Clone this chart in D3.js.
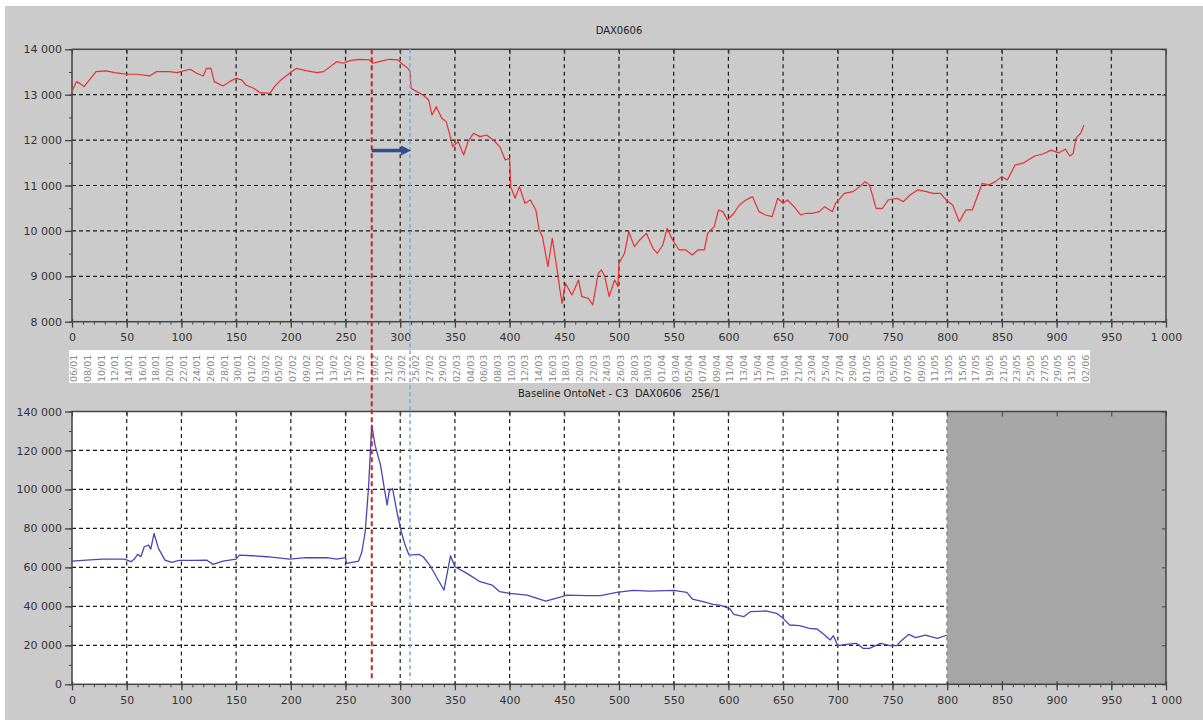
<!DOCTYPE html>
<html>
<head>
<meta charset="utf-8">
<script src="https://cdn.jsdelivr.net/npm/d3@7"></script>
<style>
  body { margin: 0; background: #fff; }
  svg { display: block; font-family: "DejaVu Sans", sans-serif; }
</style>
</head>
<body>
<svg id="chart" width="1203" height="720"></svg>
<script>
// DAX index, sample number -> level
var daxIdx = [0,4,7,11,16,22,31,39,44,50,59,71,77,89,96,108,114,120,123,127,130,138,144,150,155,159,166,172,181,185,191,199,205,214,224,230,236,242,248,254,263,272,275,281,290,298,301,307,309,310,315,321,326,329,333,338,342,345,348,353,358,362,367,373,379,385,391,396,400,401,405,409,414,419,424,427,430,435,439,443,446,448,451,457,463,466,472,476,481,484,487,491,496,499,500,505,509,514,519,525,531,535,540,544,549,555,561,567,572,578,581,587,591,595,599,605,610,616,622,628,634,640,645,650,654,660,666,671,677,683,688,695,698,706,714,720,725,729,735,741,746,754,760,766,773,781,787,794,799,805,811,817,823,828,832,838,844,850,855,862,870,880,888,895,902,908,912,915,918,922,925];
var daxVal = [13068,13288,13250,13178,13325,13508,13523,13486,13471,13450,13450,13413,13508,13508,13486,13560,13471,13413,13581,13581,13288,13192,13288,13361,13325,13214,13141,13045,13030,13178,13325,13471,13581,13530,13486,13508,13618,13728,13692,13750,13780,13765,13692,13728,13780,13765,13692,13581,13508,13141,13068,12994,12884,12554,12737,12480,12407,12150,11856,11966,11672,11966,12150,12076,12113,12003,11856,11562,11599,10975,10718,10975,10608,10681,10461,10020,9874,9213,9837,9213,8699,8405,8846,8589,8919,8552,8515,8369,9066,9140,8993,8552,8919,8773,9286,9507,9984,9654,9800,9947,9617,9507,9690,10057,9800,9580,9580,9470,9580,9580,9947,10094,10461,10424,10241,10388,10571,10681,10755,10424,10351,10314,10718,10608,10681,10534,10351,10388,10388,10424,10534,10424,10608,10828,10865,10975,11085,11012,10498,10498,10681,10718,10645,10791,10902,10865,10828,10828,10681,10571,10204,10461,10461,10791,11048,11012,11085,11195,11122,11450,11500,11650,11700,11780,11720,11800,11650,11700,12050,12150,12330];

// OntoNet complexity, sample number -> value
var onIdx = [0,13,28,48,54,57,60,63,66,70,72,75,79,85,91,98,111,123,129,138,150,153,165,178,199,214,233,242,250,251,262,265,268,271,274,277,282,285,288,290,293,297,301,304,308,317,321,327,333,340,346,350,361,373,384,391,400,416,433,448,452,471,483,498,513,528,550,562,567,577,586,592,601,605,614,620,635,644,650,656,665,674,681,688,693,696,700,708,717,723,729,739,748,754,757,765,771,780,791,800];
var onVal = [63248,63761,64274,64274,62906,64274,66667,65470,70598,71453,69402,77436,69744,63761,62564,63590,63590,63761,61538,63248,64274,66325,65983,65470,64274,64957,64957,64274,64957,62051,63248,68034,78291,100513,132991,122735,112479,102222,91966,99145,100513,88547,78291,72308,66325,66667,65470,61197,55214,48376,65983,60342,56923,52650,50940,47521,46667,45812,42735,44957,45812,45470,45470,47179,48205,47863,48205,47179,43761,42393,41026,40684,38974,35897,34701,37265,37607,36410,33846,30427,30085,28718,28376,25299,22735,24957,19829,20513,21026,18462,18462,21026,19829,19829,21880,25641,23932,25299,23590,25299];

var dateLabels = ["06/01","08/01","10/01","12/01","14/01","16/01","18/01","20/01","22/01","24/01","26/01","28/01","30/01",
  "01/02","03/02","05/02","07/02","09/02","11/02","13/02","15/02","17/02","19/02","21/02","23/02","25/02","27/02","29/02",
  "02/03","04/03","06/03","08/03","10/03","12/03","14/03","16/03","18/03","20/03","22/03","24/03","26/03","28/03","30/03",
  "01/04","03/04","05/04","07/04","09/04","11/04","13/04","15/04","17/04","19/04","21/04","23/04","25/04","27/04","29/04",
  "01/05","03/05","05/05","07/05","09/05","11/05","13/05","15/05","17/05","19/05","21/05","23/05","25/05","27/05","29/05","31/05",
  "02/06"];

var topTicksY = [8000,9000,10000,11000,12000,13000,14000];
var botTicksY = [0,20000,40000,60000,80000,100000,120000,140000];
var xTicks = d3.range(0, 1001, 50);
var markRed = 274, markBlue = 309;
var dataEnd = 800;

var svg = d3.select("#chart");
var fmt = d3.formatLocale({decimal: ".", thousands: " ", grouping: [3], currency: ["", ""]}).format(",");

// page background
svg.append("rect").attr("x", 5).attr("y", 6).attr("width", 1198).attr("height", 714).attr("fill", "#cbcbcb");

var x = d3.scaleLinear().domain([0, 1000]).range([72, 1166]);
var yTop = d3.scaleLinear().domain([8000, 14000]).range([321.7, 49.3]);
var yBot = d3.scaleLinear().domain([0, 140000]).range([684.3, 411.5]);

/**
* Draws one framed panel: grid, frame, ticks and labels
*/
function panel(y, yTicks, yMinor, fillWhite) {
  var g = svg.append("g");
  var y0 = y.range()[0], y1 = y.range()[1];

  if (fillWhite) {
    g.append("rect").attr("x", x(0)).attr("y", y1).attr("width", x(dataEnd) - x(0)).attr("height", y0 - y1).attr("fill", "#fff");
  }

  // dashed grid
  g.selectAll(".vg").data(xTicks.slice(1, -1)).enter().append("line")
    .attr("x1", function(d) { return x(d); }).attr("x2", function(d) { return x(d); })
    .attr("y1", y1).attr("y2", y0)
    .attr("stroke", "#1a1a1a").attr("stroke-width", 1.2).attr("stroke-dasharray", "4,3.5");
  g.selectAll(".hg").data(yTicks.slice(1, -1)).enter().append("line")
    .attr("x1", x(0)).attr("x2", x(1000))
    .attr("y1", function(d) { return y(d); }).attr("y2", function(d) { return y(d); })
    .attr("stroke", "#1a1a1a").attr("stroke-width", 1.2).attr("stroke-dasharray", "4,3");

  if (fillWhite) {
    g.append("rect").attr("x", x(dataEnd)).attr("y", y1).attr("width", x(1000) - x(dataEnd)).attr("height", y0 - y1).attr("fill", "#a6a6a6");
  }

  // bottom axis
  var minorX = d3.range(0, 1001, 10);
  g.append("g").attr("transform", "translate(0," + y0 + ")")
    .call(d3.axisBottom(x).tickValues(minorX).tickSize(3).tickFormat(""))
    .call(function(a) { a.select(".domain").remove(); a.selectAll("line").attr("stroke", "#444"); });
  g.append("g").attr("transform", "translate(0," + y0 + ")")
    .call(d3.axisBottom(x).tickValues(xTicks).tickSize(6).tickPadding(6).tickFormat(fmt))
    .call(function(a) {
      a.select(".domain").remove();
      a.selectAll("line").attr("stroke", "#444").attr("stroke-width", 1.3).attr("y1", -3);
      a.selectAll("text").attr("font-size", 11).attr("fill", "#333").attr("font-family", "DejaVu Sans");
    });

  // top axis ticks
  g.append("g").attr("transform", "translate(0," + y1 + ")")
    .call(d3.axisBottom(x).tickValues(xTicks).tickSize(5).tickFormat(""))
    .call(function(a) { a.select(".domain").remove(); a.selectAll("line").attr("stroke", "#444"); });

  // left axis
  g.append("g").attr("transform", "translate(" + x(0) + ",0)")
    .call(d3.axisLeft(y).tickValues(yMinor).tickSize(3).tickFormat(""))
    .call(function(a) { a.select(".domain").remove(); a.selectAll("line").attr("stroke", "#444"); });
  g.append("g").attr("transform", "translate(" + x(0) + ",0)")
    .call(d3.axisLeft(y).tickValues(yTicks).tickSize(7).tickPadding(3).tickFormat(fmt))
    .call(function(a) {
      a.select(".domain").remove();
      a.selectAll("line").attr("stroke", "#444").attr("stroke-width", 1.3);
      a.selectAll("text").attr("font-size", 11).attr("fill", "#333").attr("font-family", "DejaVu Sans");
    });

  // right axis ticks
  g.append("g").attr("transform", "translate(" + x(1000) + ",0)")
    .call(d3.axisLeft(y).tickValues(yTicks).tickSize(-4).tickFormat(""))
    .call(function(a) { a.select(".domain").remove(); a.selectAll("line").attr("stroke", "#444").attr("x2", -4); });

  // frame
  g.append("rect").attr("x", x(0)).attr("y", y1).attr("width", x(1000) - x(0)).attr("height", y0 - y1)
    .attr("fill", "none").attr("stroke", "#444").attr("stroke-width", 1.5);
  return g;
}

panel(yTop, topTicksY, d3.range(8000, 14001, 500), false);
panel(yBot, botTicksY, d3.range(0, 140001, 10000), true);

// series lines
var topLine = d3.line().x(function(d, i) { return x(daxIdx[i]); }).y(function(d) { return yTop(d); });
svg.append("path").datum(daxVal).attr("d", topLine)
  .attr("fill", "none").attr("stroke", "#e8312e").attr("stroke-width", 1.2).attr("stroke-linejoin", "round");

var botLine = d3.line().x(function(d, i) { return x(onIdx[i]); }).y(function(d) { return yBot(d); });
svg.append("path").datum(onVal).attr("d", botLine)
  .attr("fill", "none").attr("stroke", "#4747b5").attr("stroke-width", 1.3).attr("stroke-linejoin", "round");

// titles
svg.append("text").attr("x", x(500)).attr("y", 34).attr("text-anchor", "middle")
  .attr("font-size", 10).attr("fill", "#222").text("DAX0606");
svg.append("text").attr("x", x(500)).attr("y", 397).attr("text-anchor", "middle")
  .attr("font-size", 10).attr("fill", "#222").style("white-space", "pre")
  .text("Baseline OntoNet - C3  DAX0606   256/1");

// date labels strip
svg.append("rect").attr("x", 69).attr("y", 350).attr("width", 1021).attr("height", 33).attr("fill", "#fff");
var dx = d3.scalePoint().domain(dateLabels).range([x(1.8), x(926)]);
svg.append("g").selectAll("text").data(dateLabels).enter().append("text")
  .attr("transform", function(d) { return "translate(" + (dx(d) + 3.5) + ",382) rotate(-90)"; })
  .attr("font-size", 9.5).attr("fill", "#8a8a8a").text(function(d) { return d; });

// marker lines
svg.append("line").attr("x1", x(markRed)).attr("x2", x(markRed)).attr("y1", yTop(14000)).attr("y2", 680)
  .attr("stroke", "#d0232a").attr("stroke-width", 2).attr("stroke-dasharray", "5,3");
svg.append("line").attr("x1", x(markBlue)).attr("x2", x(markBlue)).attr("y1", yTop(14000)).attr("y2", 680)
  .attr("stroke", "#7aa6e0").attr("stroke-width", 1.5).attr("stroke-dasharray", "4,3");

// arrow from red to blue marker
var ay = yTop(11770);
svg.append("line").attr("x1", x(markRed)).attr("x2", x(markBlue) - 8).attr("y1", ay).attr("y2", ay)
  .attr("stroke", "#2e5090").attr("stroke-width", 3.5);
svg.append("path")
  .attr("d", "M" + (x(markBlue) + 1) + "," + ay + " l-10,-5 l0,10 z")
  .attr("fill", "#2e5090");
</script>
</body>
</html>
